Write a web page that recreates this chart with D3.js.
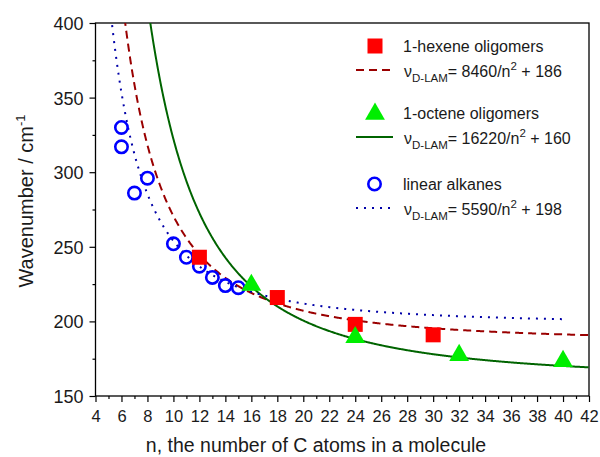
<!DOCTYPE html>
<html><head><meta charset="utf-8">
<script src="https://cdn.jsdelivr.net/npm/d3@7"></script>
<style>
html,body{margin:0;padding:0;background:#fff;}
svg{display:block;font-family:"Liberation Sans",Arial,sans-serif;}
</style></head>
<body>
<svg id="chart" width="600" height="457"></svg>
<script>
// ---- data ----
const hexeneN = [12, 18, 24, 30];
const hexeneV = [243, 216, 198, 191];
const octeneN = [16, 24, 32, 40];
const octeneV = [225, 190, 178, 174];
const alkaneN = [6, 6, 7, 8, 10, 11, 12, 13, 14, 15];
const alkaneV = [330, 317, 286, 296, 252, 243, 237, 229.5, 224, 222.6];
// fit models v = A/n^2 + B, drawn up to nMax
const fitNames = ["hexene", "octene", "alkane"];
const fitA = [8460, 16220, 5590];
const fitB = [186, 160, 198];
const fitNMax = [42, 42, 40];
const xTicks = [4,6,8,10,12,14,16,18,20,22,24,26,28,30,32,34,36,38,40,42];
const yTicks = [150, 200, 250, 300, 350, 400];
const legendLabels = ["1-hexene oligomers", "1-octene oligomers", "linear alkanes"];

// ---- layout ----
const svg = d3.select("#chart");
const L = 95.5, R = 589, T = 23, B = 396;
const x = d3.scaleLinear().domain([4, 42]).range([L, R]);
const y = d3.scaleLinear().domain([150, 400]).range([B, T]);
const font = '"Liberation Sans",Arial,sans-serif';

svg.append("clipPath").attr("id","clip").append("rect")
  .attr("x", L).attr("y", T).attr("width", R - L).attr("height", B - T);

// axes
const xAxis = d3.axisBottom(x).tickValues(xTicks).tickSize(6).tickSizeOuter(0).tickPadding(8);
const gx = svg.append("g").attr("transform", `translate(0,${B})`).call(xAxis);
const xMinor = d3.axisBottom(x).tickValues(d3.range(5, 42, 2)).tickSize(3).tickFormat("");
const gxm = svg.append("g").attr("transform", `translate(0,${B})`).call(xMinor);
const yAxis = d3.axisLeft(y).tickValues(yTicks).tickSize(6).tickSizeOuter(0).tickPadding(6);
const gy = svg.append("g").attr("transform", `translate(${L},0)`).call(yAxis);
const yMinor = d3.axisLeft(y).tickValues(d3.range(175, 400, 50)).tickSize(3).tickFormat("");
const gym = svg.append("g").attr("transform", `translate(${L},0)`).call(yMinor);
[gx, gxm, gy, gym].forEach(g => {
  g.select(".domain").remove();
  g.selectAll("line").attr("stroke", "#000").attr("stroke-width", 1.2);
  g.selectAll("text").attr("font-family", font).attr("fill", "#1a1a1a");
});
gx.selectAll("text").attr("font-size", 16.5);
gy.selectAll("text").attr("font-size", 18).attr("dy", "0.36em");

// frame
svg.append("rect").attr("x", L).attr("y", T).attr("width", R - L).attr("height", B - T)
  .attr("fill", "none").attr("stroke", "#000").attr("stroke-width", 1.3);

// axis titles
svg.append("text").attr("x", 316).attr("y", 451.5)
  .attr("text-anchor", "middle").attr("font-family", font).attr("font-size", 19.5).attr("fill", "#1a1a1a")
  .text("n, the number of C atoms in a molecule");
const yt = svg.append("text").attr("transform", "translate(33,201) rotate(-90)")
  .attr("text-anchor", "middle").attr("font-family", font).attr("font-size", 20).attr("fill", "#1a1a1a");
yt.append("tspan").text("Wavenumber / cm");
yt.append("tspan").attr("dy", -8).attr("font-size", 13).text("-1");

// fit curves
const styles = {
  hexene: {stroke: "#9a0000", dash: "8,5", w: 2},
  octene: {stroke: "#006400", dash: null, w: 2},
  alkane: {stroke: "#0000a8", dash: "2,6", w: 2}
};
const line = d3.line().x(d => x(d[0])).y(d => y(d[1]));
const plot = svg.append("g").attr("clip-path", "url(#clip)");
fitNames.forEach((name, i) => {
  const n0 = Math.sqrt(fitA[i] / (400 - fitB[i])) - 0.05;
  const pts = d3.range(n0, fitNMax[i] + 1e-9, 0.05).map(n => [n, fitA[i] / (n * n) + fitB[i]]);
  plot.append("path").datum(pts).attr("d", line).attr("fill", "none")
    .attr("stroke", styles[name].stroke).attr("stroke-width", styles[name].w)
    .attr("stroke-dasharray", styles[name].dash);
});

// markers
const tri = d3.symbol().type(d3.symbolTriangle).size(170);
plot.selectAll(".alk").data(alkaneN).join("circle")
  .attr("cx", d => x(d)).attr("cy", (d, i) => y(alkaneV[i])).attr("r", 6.2)
  .attr("fill", "none").attr("stroke", "#0000ff").attr("stroke-width", 2.6);
plot.selectAll(".hex").data(hexeneN).join("rect")
  .attr("x", d => x(d) - 7.5).attr("y", (d, i) => y(hexeneV[i]) - 7.5)
  .attr("width", 15).attr("height", 15).attr("fill", "#ff0000");
plot.selectAll(".oct").data(octeneN).join("path")
  .attr("d", tri).attr("transform", (d, i) => `translate(${x(d)},${y(octeneV[i]) + 1})`)
  .attr("fill", "#00ee00");

// legend
const lg = svg.append("g");
const symX = 375, txtX = 403;
const rowsY = [46, 113, 184];
fitNames.forEach((name, i) => {
  const cy = rowsY[i];
  if (name === "hexene") lg.append("rect").attr("x", symX - 7.5).attr("y", cy - 7.5).attr("width", 15).attr("height", 15).attr("fill", "#ff0000");
  if (name === "octene") lg.append("path").attr("d", tri).attr("transform", `translate(${symX},${cy + 1})`).attr("fill", "#00ee00");
  if (name === "alkane") lg.append("circle").attr("cx", symX - 0.5).attr("cy", cy).attr("r", 6.2).attr("fill", "none").attr("stroke", "#0000ff").attr("stroke-width", 2.6);
  lg.append("text").attr("x", txtX).attr("y", cy + 5.5).attr("font-family", font).attr("font-size", 16).attr("fill", "#1a1a1a").text(legendLabels[i]);
  const ly = cy + 24;
  lg.append("line").attr("x1", 356).attr("x2", 393).attr("y1", ly).attr("y2", ly)
    .attr("stroke", styles[name].stroke).attr("stroke-width", styles[name].w).attr("stroke-dasharray", styles[name].dash);
  const t = lg.append("text").attr("x", txtX + 1).attr("y", ly + 6.5).attr("font-family", font).attr("font-size", 16).attr("fill", "#1a1a1a");
  t.append("tspan").text("ν");
  t.append("tspan").attr("font-size", 11.5).attr("dy", 5).text("D-LAM");
  t.append("tspan").attr("dy", -5).text(`= ${fitA[i]}/n`);
  t.append("tspan").attr("font-size", 11.5).attr("dy", -6.5).text("2");
  t.append("tspan").attr("dy", 6.5).text(` + ${fitB[i]}`);
});
</script>
</body></html>
